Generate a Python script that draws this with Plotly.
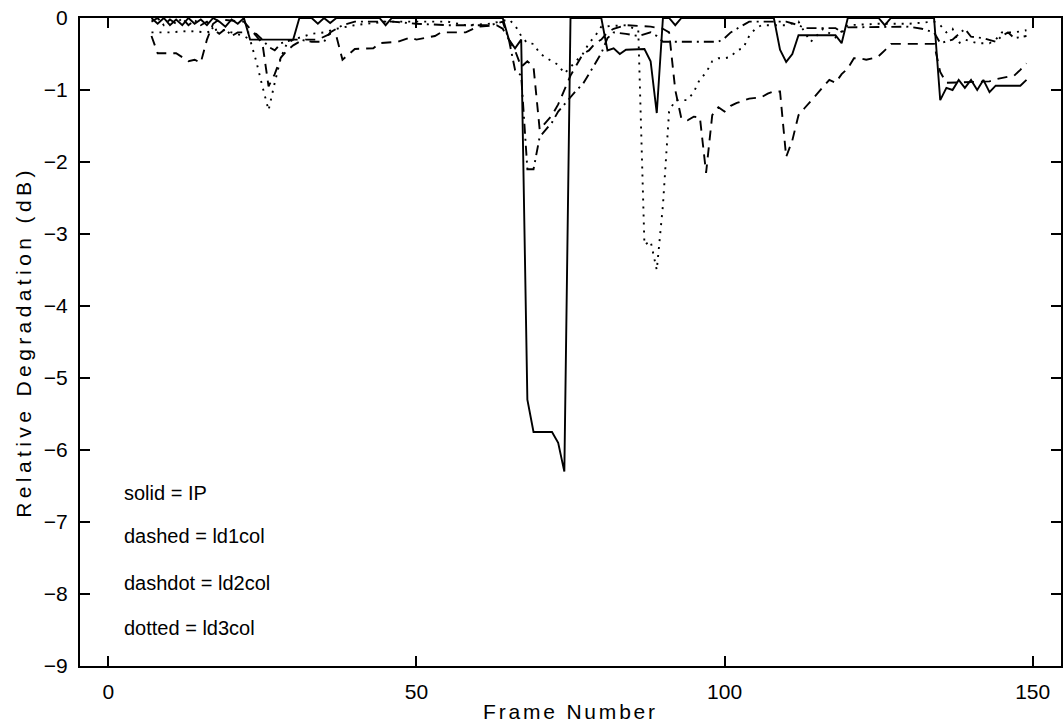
import plotly.graph_objects as go

# Relative degradation (dB) per frame for each coder, as (frame, dB) vertices
IP_POINTS = [
    (7, 0), (8, -0.08), (9, 0), (10, -0.1), (11, -0.02), (12, -0.1), (13, 0), (14, -0.08),
    (15, -0.02), (16, -0.1), (17, 0), (18, -0.05), (19, -0.12), (20, -0.02), (21, -0.08),
    (22, 0), (23, -0.3), (30, -0.3), (31, 0), (33, 0), (34, -0.08), (35, 0), (36, -0.07),
    (37, 0), (44, 0), (45, -0.1), (46, 0), (64, 0), (65, -0.3), (66, -0.42), (67, -0.3),
    (68, -5.3), (69, -5.75), (72, -5.75), (73, -5.9), (74, -6.3), (75, 0), (80, 0),
    (81, -0.45), (82, -0.42), (83, -0.5), (84, -0.44), (87, -0.43), (88, -0.6), (89, -1.32),
    (90, 0), (91, 0), (92, -0.1), (93, 0), (108, 0), (109, -0.44), (110, -0.61), (111, -0.5),
    (112, -0.24), (118, -0.24), (119, -0.35), (120, 0), (125, 0), (126, -0.1), (127, 0),
    (134, 0), (135, -1.14), (136, -0.97), (137, -1.0), (138, -0.86), (139, -0.97),
    (140, -0.86), (141, -1.0), (142, -0.86), (143, -1.03), (144, -0.94), (148, -0.94),
    (149, -0.86),
]

LD1COL_POINTS = [
    (7, -0.25), (8, -0.49), (11, -0.49), (12, -0.55), (13, -0.6), (14, -0.58), (15, -0.62),
    (16, -0.3), (17, -0.08), (18, -0.02), (22, -0.05), (23, -0.15), (24, -0.25), (25, -0.35),
    (26, -0.95), (27, -0.78), (28, -0.55), (29, -0.45), (30, -0.38), (31, -0.33), (32, -0.3),
    (34, -0.3), (36, -0.22), (37, -0.25), (38, -0.58), (39, -0.5), (40, -0.43), (43, -0.42),
    (44, -0.35), (47, -0.33), (48, -0.3), (49, -0.27), (50, -0.3), (51, -0.28), (53, -0.25),
    (54, -0.2), (58, -0.2), (60, -0.12), (63, -0.1), (64, -0.15), (65, -0.3), (66, -0.45),
    (67, -0.68), (68, -0.6), (69, -0.68), (70, -1.55), (71, -1.45), (72, -1.35), (73, -1.2),
    (74, -1.0), (75, -0.8), (76, -0.65), (77, -0.5), (78, -0.45), (79, -0.35), (80, -0.3),
    (81, -0.2), (82, -0.15), (84, -0.1), (88, -0.12), (90, -0.15), (91, -0.2), (92, -1.0),
    (93, -1.4), (94, -1.42), (95, -1.37), (96, -1.38), (97, -2.15), (98, -1.35), (99, -1.24),
    (100, -1.3), (101, -1.22), (102, -1.18), (104, -1.12), (106, -1.1), (107, -1.05),
    (108, -1.02), (109, -1.02), (110, -1.93), (111, -1.7), (112, -1.35), (113, -1.25),
    (114, -1.15), (115, -1.05), (116, -0.95), (117, -0.86), (118, -0.9), (119, -0.78),
    (120, -0.7), (121, -0.56), (122, -0.56), (123, -0.58), (124, -0.56), (125, -0.53),
    (126, -0.45), (127, -0.36), (134, -0.36), (135, -0.75), (136, -0.9), (143, -0.88),
    (144, -0.85), (146, -0.82), (147, -0.8), (148, -0.72), (149, -0.63),
]

LD2COL_POINTS = [
    (7, -0.05), (8, 0), (9, -0.1), (10, -0.02), (11, -0.08), (12, 0), (13, -0.1), (14, -0.03),
    (15, -0.1), (16, -0.05), (17, -0.15), (18, -0.22), (19, -0.15), (20, -0.25), (21, -0.2),
    (23, -0.2), (24, -0.22), (25, -0.3), (26, -0.4), (27, -0.45), (28, -0.35), (30, -0.3),
    (31, -0.3), (33, -0.33), (35, -0.33), (36, -0.2), (38, -0.1), (40, -0.05), (46, -0.05),
    (50, -0.08), (55, -0.1), (62, -0.1), (64, -0.05), (65, -0.3), (66, -0.72), (67, -0.8),
    (68, -2.1), (69, -2.1), (70, -1.65), (71, -1.55), (72, -1.45), (73, -1.3), (74, -1.2),
    (75, -1.1), (76, -1.0), (77, -0.92), (78, -0.78), (79, -0.63), (80, -0.49), (81, -0.28),
    (82, -0.2), (84, -0.22), (86, -0.25), (88, -0.2), (89, -0.25), (90, -0.33), (99, -0.33),
    (100, -0.28), (101, -0.2), (102, -0.15), (103, -0.1), (104, -0.05), (110, -0.05),
    (112, -0.1), (113, -0.14), (118, -0.14), (119, -0.2), (120, -0.13), (130, -0.12),
    (132, -0.15), (134, -0.2), (135, -0.35), (137, -0.3), (139, -0.15), (140, -0.26),
    (142, -0.28), (144, -0.33), (145, -0.25), (146, -0.2), (147, -0.28), (149, -0.25),
]

LD3COL_POINTS = [
    (7, -0.2), (10, -0.2), (13, -0.18), (16, -0.2), (18, -0.15), (20, -0.2), (22, -0.25),
    (23, -0.3), (24, -0.6), (25, -0.95), (26, -1.28), (27, -0.9), (28, -0.55), (29, -0.35),
    (30, -0.3), (33, -0.22), (35, -0.2), (37, -0.15), (40, -0.1), (45, -0.05), (55, -0.05),
    (58, -0.1), (62, -0.08), (65, -0.02), (66, -0.1), (67, -0.25), (68, -0.35), (69, -0.36),
    (70, -0.49), (71, -0.55), (72, -0.6), (73, -0.65), (74, -0.77), (75, -0.68), (76, -0.6),
    (77, -0.5), (78, -0.35), (79, -0.25), (80, -0.12), (84, -0.1), (86, -0.17), (87, -3.15),
    (88, -3.1), (89, -3.5), (90, -2.6), (91, -1.3), (92, -1.14), (94, -1.14), (95, -1.03),
    (96, -0.85), (97, -0.76), (98, -0.6), (99, -0.56), (100, -0.56), (101, -0.54),
    (102, -0.45), (103, -0.42), (104, -0.25), (105, -0.15), (106, -0.1), (110, -0.1),
    (112, -0.05), (113, -0.2), (114, -0.33), (116, -0.15), (118, -0.27), (120, -0.1),
    (125, -0.08), (130, -0.08), (134, -0.05), (135, -0.1), (136, -0.2), (137, -0.15),
    (138, -0.35), (139, -0.3), (141, -0.35), (143, -0.35), (144, -0.3), (145, -0.2),
    (147, -0.2), (149, -0.17),
]

LEGEND_LINES = ["solid = IP", "dashed = ld1col", "dashdot = ld2col", "dotted = ld3col"]
LEGEND_Y = [-6.6, -7.2, -7.85, -8.47]

X_TICKS = [0, 50, 100, 150]
Y_TICKS = [0, -1, -2, -3, -4, -5, -6, -7, -8, -9]

FONT = "Liberation Sans, Arial, Helvetica, sans-serif"

series = [
    (IP_POINTS, "solid"),
    (LD1COL_POINTS, "10px,7px"),
    (LD2COL_POINTS, "10px,5px,2px,5px"),
    (LD3COL_POINTS, "2px,6px"),
]

fig = go.Figure()
for pts, dash in series:
    fx, fy = zip(*pts)
    fig.add_trace(go.Scatter(
        x=list(fx), y=list(fy), mode="lines",
        line=dict(color="black", width=1.9, dash=dash),
        showlegend=False, hoverinfo="skip",
    ))

for text, yv in zip(LEGEND_LINES, LEGEND_Y):
    fig.add_annotation(x=2.2, y=yv, xref="x", yref="y", text=text, showarrow=False,
                       xanchor="left", yanchor="middle",
                       font=dict(family=FONT, size=20, color="black"))

fig.update_layout(
    width=1063, height=725,
    margin=dict(l=80, r=0, t=18, b=59),
    paper_bgcolor="white", plot_bgcolor="white",
    font=dict(family=FONT, size=21, color="black"),
    showlegend=False,
)
fig.update_xaxes(
    range=[-4.6, 154.6], tickvals=X_TICKS, ticks="inside", ticklen=10, tickwidth=1.5,
    tickcolor="black", showline=True, linecolor="black", linewidth=2, mirror="ticks",
    showgrid=False, zeroline=False, ticklabelstandoff=6,
    title=dict(text='<span style="letter-spacing:2.8px">Frame Number</span>',
               font=dict(family=FONT, size=21), standoff=2),
)
fig.update_yaxes(
    range=[-9, 0], tickvals=Y_TICKS, ticks="inside", ticklen=10, tickwidth=1.5,
    tickcolor="black", showline=True, linecolor="black", linewidth=2, mirror="ticks",
    showgrid=False, zeroline=False, ticklabelstandoff=6,
    title=dict(text='<span style="letter-spacing:4.4px">Relative Degradation (dB)</span>',
               font=dict(family=FONT, size=21), standoff=6),
)

fig.write_html("out.html")
